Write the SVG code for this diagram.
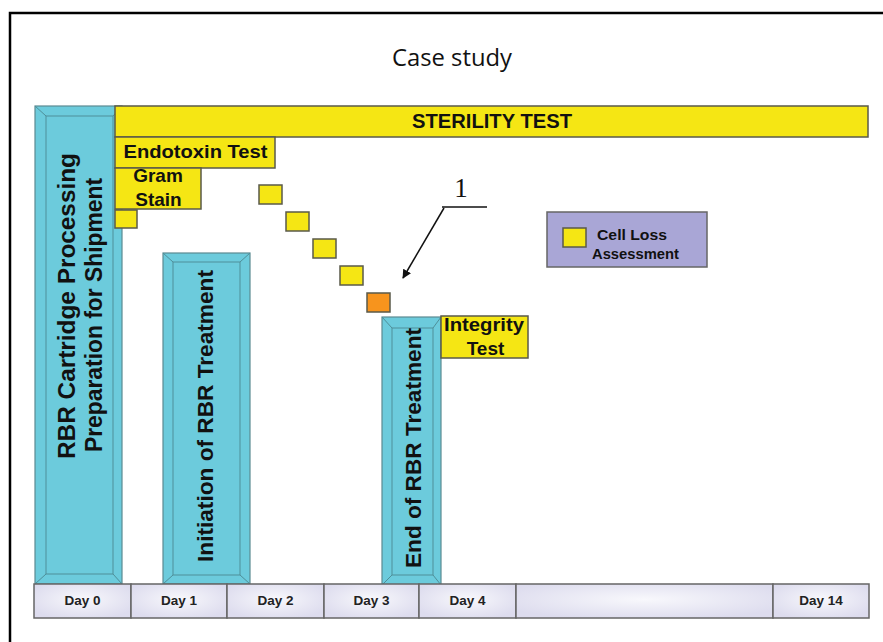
<svg xmlns="http://www.w3.org/2000/svg" width="883" height="642" viewBox="0 0 883 642">
<defs>
<radialGradient id="dayg" cx="0.5" cy="0.45" r="0.6">
<stop offset="0" stop-color="#f8f8fc"/>
<stop offset="1" stop-color="#dddcee"/>
</radialGradient>
<marker id="ah" viewBox="0 0 10 10" refX="9" refY="5" markerWidth="9" markerHeight="9" markerUnits="userSpaceOnUse" orient="auto">
<path d="M0,0 L10,5 L0,10 Z" fill="#111"/>
</marker>
</defs>
<style>
.cy{fill:#6ccbdc;stroke:#5b8a92;stroke-width:1.2}
.bev{fill:none;stroke:#4f8f99;stroke-width:1}
.ye{fill:#f5e614;stroke:#5a5a4a;stroke-width:1.5}
.or{fill:#f7941d;stroke:#5a5a4a;stroke-width:1.5}
.day{fill:url(#dayg);stroke:#666;stroke-width:1.5}
.b{font-family:"Liberation Sans",Arial,sans-serif;font-weight:bold;fill:#111}
.dt{font-family:"Liberation Sans",Arial,sans-serif;font-weight:bold;font-size:13.5px;fill:#222;text-anchor:middle}
</style>
<rect x="0" y="0" width="883" height="642" fill="#fff"/>
<path d="M10,642 L10,13 L883,13" fill="none" stroke="#000" stroke-width="2.5"/>
<text x="452" y="66" font-family="'Open Sans','Liberation Sans',sans-serif" font-size="23" text-anchor="middle" fill="#111" textLength="120" lengthAdjust="spacingAndGlyphs">Case study</text>

<g id="shipment">
<rect class="cy" x="35" y="106" width="87" height="478"/>
<rect class="bev" x="46" y="116" width="67" height="458"/>
<path class="bev" d="M35,106 L46,116 M122,106 L113,116 M35,584 L46,574 M122,584 L113,574"/>
<text class="b" font-size="24" text-anchor="middle" transform="translate(75,306) rotate(-90)" textLength="306" lengthAdjust="spacingAndGlyphs">RBR Cartridge Processing</text>
<text class="b" font-size="23" text-anchor="middle" transform="translate(102,315) rotate(-90)" textLength="274" lengthAdjust="spacingAndGlyphs">Preparation for Shipment</text>
</g>

<g id="sterility">
<rect class="ye" x="115" y="106" width="753" height="31"/>
<text class="b" x="492" y="128" font-size="20" text-anchor="middle" textLength="160" lengthAdjust="spacingAndGlyphs">STERILITY TEST</text>
</g>

<g id="endotoxin">
<rect class="ye" x="115" y="137" width="160" height="31"/>
<text class="b" x="195.5" y="158" font-size="18.5" text-anchor="middle" textLength="144" lengthAdjust="spacingAndGlyphs">Endotoxin Test</text>
</g>

<g id="gram">
<rect class="ye" x="115" y="168" width="86" height="41"/>
<text class="b" x="158" y="182" font-size="19" text-anchor="middle">Gram</text>
<text class="b" x="158.5" y="206" font-size="19" text-anchor="middle">Stain</text>
</g>

<rect id="sq0" class="ye" x="115" y="210" width="22" height="18"/>

<g id="initiation">
<rect class="cy" x="163" y="253" width="87" height="331"/>
<rect class="bev" x="173" y="262" width="67" height="313"/>
<path class="bev" d="M163,253 L173,262 M250,253 L240,262 M163,584 L173,575 M250,584 L240,575"/>
<text class="b" font-size="22.5" text-anchor="middle" transform="translate(213,416) rotate(-90)" textLength="292" lengthAdjust="spacingAndGlyphs">Initiation of RBR Treatment</text>
</g>

<g id="cellloss">
<rect class="ye" x="259" y="185" width="23" height="19"/>
<rect class="ye" x="286" y="212" width="23" height="19"/>
<rect class="ye" x="313" y="239" width="23" height="19"/>
<rect class="ye" x="340" y="266" width="23" height="19"/>
<rect class="or" x="367" y="293" width="23" height="19"/>
</g>

<g id="label1">
<text x="461" y="197" font-family="'Liberation Serif','Times New Roman',serif" font-size="27" text-anchor="middle" fill="#111">1</text>
</g>

<g id="connectors">
<path d="M442,207 L487,207" fill="none" stroke="#111" stroke-width="1.5"/>
<path d="M444,208 L403,278" fill="none" stroke="#111" stroke-width="1.5" marker-end="url(#ah)"/>
</g>

<g id="end">
<rect class="cy" x="382" y="317" width="59" height="268"/>
<rect class="bev" x="392" y="328" width="41" height="247"/>
<path class="bev" d="M382,317 L392,328 M441,317 L433,328 M382,585 L392,575 M441,585 L433,575"/>
<text class="b" font-size="22.5" text-anchor="middle" transform="translate(421,448) rotate(-90)" textLength="240" lengthAdjust="spacingAndGlyphs">End of RBR Treatment</text>
</g>

<g id="integrity">
<rect class="ye" x="441" y="316" width="87" height="42"/>
<text class="b" x="484" y="331" font-size="19" text-anchor="middle" textLength="80" lengthAdjust="spacingAndGlyphs">Integrity</text>
<text class="b" x="485.5" y="355" font-size="19" text-anchor="middle">Test</text>
</g>

<g id="legend">
<rect x="547" y="212" width="160" height="55" fill="#a9a6d6" stroke="#666" stroke-width="1.5"/>
<rect class="ye" x="563" y="228" width="23" height="19"/>
<text class="b" x="632" y="240" font-size="15" text-anchor="middle" textLength="70" lengthAdjust="spacingAndGlyphs">Cell Loss</text>
<text class="b" x="635.5" y="259" font-size="15" text-anchor="middle" textLength="87" lengthAdjust="spacingAndGlyphs">Assessment</text>
</g>

<g id="days">
<rect class="day" x="34" y="584" width="97" height="34"/>
<rect class="day" x="131" y="584" width="96" height="34"/>
<rect class="day" x="227" y="584" width="97" height="34"/>
<rect class="day" x="324" y="584" width="95" height="34"/>
<rect class="day" x="419" y="584" width="97" height="34"/>
<rect class="day" x="516" y="584" width="257" height="34"/>
<rect class="day" x="773" y="584" width="96" height="34"/>
<text class="dt" x="82.5" y="605">Day 0</text>
<text class="dt" x="179" y="605">Day 1</text>
<text class="dt" x="275.5" y="605">Day 2</text>
<text class="dt" x="371.5" y="605">Day 3</text>
<text class="dt" x="467.5" y="605">Day 4</text>
<text class="dt" x="821" y="605">Day 14</text>
</g>
</svg>
